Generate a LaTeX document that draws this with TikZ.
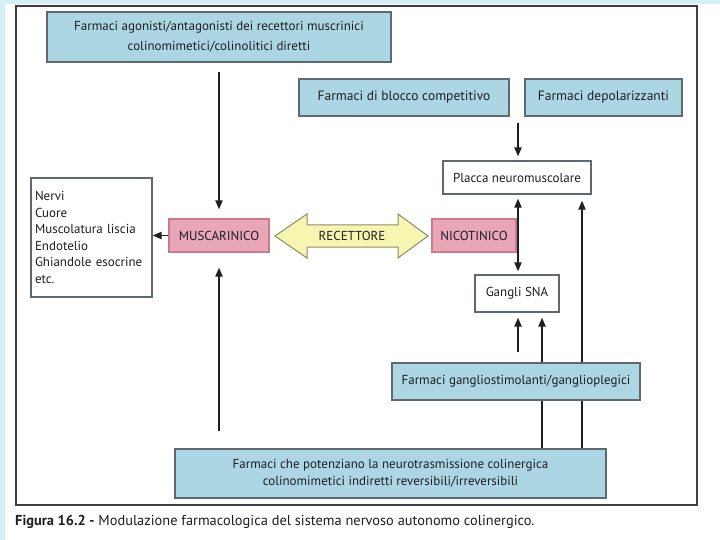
\documentclass[tikz,border=0pt]{standalone}
\usepackage{fontspec}
\setmainfont{PT Sans}
\usetikzlibrary{arrows.meta}
\definecolor{boxblue}{RGB}{172,214,228}
\definecolor{boxborder}{RGB}{95,105,112}
\definecolor{pinkfill}{RGB}{232,166,182}
\definecolor{pinkborder}{RGB}{205,120,140}
\definecolor{arrowyellow}{RGB}{246,246,176}
\definecolor{arrowborder}{RGB}{140,140,100}
\definecolor{bandcyan}{RGB}{214,239,247}
\definecolor{txt}{RGB}{30,30,35}
\pgfdeclarelayer{bg}
\pgfdeclarelayer{lines}
\pgfsetlayers{bg,lines,main}
\tikzset{
  boxbase/.style={line width=1.1pt, inner sep=0pt, align=center, text=txt,
    font=\fontsize{13}{17}\selectfont},
  bluebox/.style={boxbase, draw=boxborder, fill=boxblue},
  whitebox/.style={boxbase, draw=boxborder, fill=white},
  pinkbox/.style={boxbase, draw=pinkborder, fill=pinkfill},
  conn/.style={line width=1.8pt, draw=black!88, -{Triangle[length=9pt,width=7pt]}},
  conn2/.style={line width=1.8pt, draw=black!88, {Triangle[length=9pt,width=7pt]}-{Triangle[length=9pt,width=7pt]}}
}
\begin{document}
\begin{tikzpicture}[x=1pt,y=-1pt]
\useasboundingbox (0,0) rectangle (720,540);
\begin{pgfonlayer}{bg}
\fill[white] (0,0) rectangle (720,540);
\fill[bandcyan] (0,0) rectangle (720,4);
\fill[bandcyan] (0,0) rectangle (5,540);
\draw[line width=1.5pt, draw=black!75] (16,6) rectangle (697,505);
\end{pgfonlayer}

% nodes
\node[bluebox, minimum width=344pt, minimum height=50pt, font=\fontsize{13}{19.5}\selectfont] (top) at (219,37)
  {Farmaci agonisti/antagonisti dei recettori muscrinici\\colinomimetici/colinolitici diretti};
\node[bluebox, minimum width=210pt, minimum height=37pt, font=\fontsize{13.5}{17}\selectfont] (blocco) at (404,97.5) {Farmaci di blocco competitivo};
\node[bluebox, minimum width=157pt, minimum height=37pt, font=\fontsize{13.5}{17}\selectfont] (depol) at (603.5,97.5) {Farmaci depolarizzanti};
\node[whitebox, minimum width=148pt, minimum height=33pt] (placca) at (517,177.5) {Placca neuromuscolare};
\node[pinkbox, minimum width=100pt, minimum height=33pt] (musc) at (219,235.5) {MUSCARINICO};
\node[pinkbox, minimum width=84pt, minimum height=33pt] (nico) at (474,235.5) {NICOTINICO};
\node[whitebox, minimum width=121pt, minimum height=119pt, align=left, text width=113pt,
  font=\fontsize{13}{16.6}\selectfont] (list) at (91.5,237.5)
  {Nervi\\Cuore\\Muscolatura liscia\\Endotelio\\Ghiandole esocrine\\etc.};
\node[whitebox, minimum width=84pt, minimum height=37pt] (gangli) at (517,293.5) {Gangli SNA};
\node[bluebox, minimum width=248pt, minimum height=37pt] (gfarm) at (516,381.5) {Farmaci gangliostimolanti/ganglioplegici};
\node[bluebox, minimum width=431pt, minimum height=49pt, font=\fontsize{13}{16.7}\selectfont] (bottom) at (390.5,473.5)
  {Farmaci che potenziano la neurotrasmissione colinergica\\colinomimetici indiretti reversibili/irreversibili};

% RECETTORE double arrow
\draw[line width=1pt, draw=arrowborder, fill=arrowyellow]
  (275,236) -- (307,214) -- (307,225) -- (398,225) -- (398,214) -- (428,236)
  -- (398,258) -- (398,247) -- (307,247) -- (307,258) -- cycle;
\node[boxbase] (rec) at (352,236) {RECETTORE};

% caption
\node[anchor=west, inner sep=0pt, text=txt, font=\fontsize{14.4}{16}\selectfont] (cap) at (15,522)
  {\textbf{Figura 16.2 -} Modulazione farmacologica del sistema nervoso autonomo colinergico.};

% connectors
\coordinate (c1) at (518,123);
\coordinate (c2) at (219,431);
\coordinate (c3) at (518,352);
\coordinate (c4) at (542,0);
\coordinate (c5) at (582,0);
\draw[conn, shorten <=9pt, shorten >=9pt] (top.south) -- (musc.north);
\draw[conn, shorten >=15pt] (c2) -- (musc.south);
\draw[conn] (musc.west) -- (musc.west -| list.east);
\draw[conn, shorten >=4pt] (c1) -- (c1 |- placca.north);
\draw[conn2, shorten <=4pt, shorten >=3pt] (c1 |- placca.south) -- (c1 |- gangli.north);
\draw[conn, shorten >=5pt] (c3) -- (c3 |- gangli.south);
\begin{pgfonlayer}{lines}
\draw[conn, shorten >=5pt] (c4 |- bottom.north) -- (c4 |- gangli.south);
\draw[conn, shorten >=6pt] (c5 |- bottom.north) -- (c5 |- placca.south);
\end{pgfonlayer}
\end{tikzpicture}
\end{document}
